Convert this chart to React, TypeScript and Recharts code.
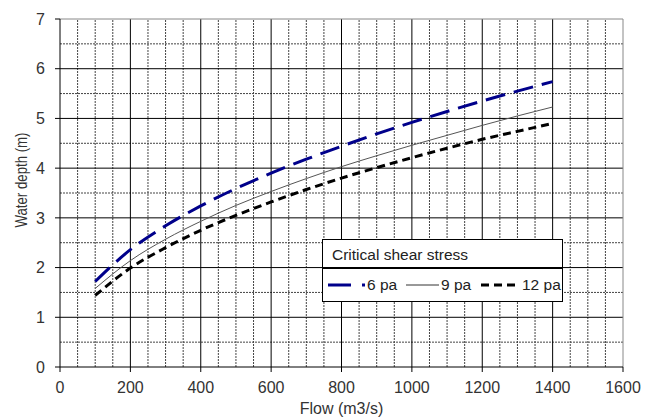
import { LineChart, Line, XAxis, YAxis, ReferenceLine } from "recharts";

const flow = [100, 200, 300, 400, 500, 600, 700, 800, 900, 1000, 1100, 1200, 1300, 1400];
const depth6 = [1.72, 2.36, 2.84, 3.24, 3.59, 3.9, 4.18, 4.44, 4.69, 4.92, 5.14, 5.35, 5.55, 5.74];
const depth9 = [1.58, 2.14, 2.57, 2.93, 3.25, 3.53, 3.79, 4.03, 4.25, 4.46, 4.66, 4.86, 5.05, 5.23];
const depth12 = [1.44, 1.99, 2.4, 2.75, 3.05, 3.32, 3.57, 3.8, 4.01, 4.21, 4.4, 4.58, 4.74, 4.9];

const xTicks = [0, 200, 400, 600, 800, 1000, 1200, 1400, 1600];
const yTicks = [0, 1, 2, 3, 4, 5, 6, 7];
const xMinor = [50, 100, 150, 250, 300, 350, 450, 500, 550, 650, 700, 750, 850, 900, 950, 1050, 1100, 1150, 1250, 1300, 1350, 1450, 1500, 1550];
const yMinor = [0.5, 1.5, 2.5, 3.5, 4.5, 5.5, 6.5];

const data = flow.map((f, i) => ({ flow: f, d6: depth6[i], d9: depth9[i], d12: depth12[i] }));

const font = "Liberation Sans, Arial, sans-serif";

// y axis title, a bit narrower than the tick font
function YLabel() {
  return (
    <text
      x={27}
      y={180}
      transform="rotate(-90 27 180)"
      textAnchor="middle"
      fontSize={16}
      textLength={95}
      lengthAdjust="spacingAndGlyphs"
      fill="#333"
      fontFamily={font}
    >
      Water depth (m)
    </text>
  );
}

function LegendBox() {
  return (
    <div
      style={{
        position: "absolute",
        left: 322,
        top: 239,
        width: 241,
        height: 63,
        border: "1px solid #000",
        background: "#fff",
        fontFamily: font,
        fontSize: 15.5,
        color: "#222",
        boxSizing: "border-box",
      }}
    >
      <div style={{ height: 27, borderBottom: "2px solid #000", paddingLeft: 9, lineHeight: "30px" }}>
        Critical shear stress
      </div>
      <svg width={241} height={31} style={{ display: "block", overflow: "visible" }}>
        <line x1={5} y1={16} x2={28} y2={16} stroke="#00008b" strokeWidth={3} />
        <line x1={39} y1={16} x2={42} y2={16} stroke="#00008b" strokeWidth={3} />
        <text x={44} y={21} fontSize={15.5} fill="#222" fontFamily={font}>6 pa</text>
        <line x1={83} y1={16} x2={116} y2={16} stroke="#333" strokeWidth={1} />
        <text x={118} y={21} fontSize={15.5} fill="#222" fontFamily={font}>9 pa</text>
        <line x1={158} y1={16} x2={192} y2={16} stroke="#000" strokeWidth={3} strokeDasharray="8 5" />
        <text x={199} y={21} fontSize={15.5} fill="#222" fontFamily={font}>12 pa</text>
      </svg>
    </div>
  );
}

export default function App() {
  return (
    <div style={{ position: "absolute", left: 0, top: 0, width: 660, height: 418 }}>
      <LineChart width={660} height={418} data={data} margin={{ top: 19, right: 37, left: 20, bottom: 21 }}>
        {xMinor.map((v) => (
          <ReferenceLine key={"xm" + v} x={v} stroke="#444" strokeDasharray="2 1" />
        ))}
        {yMinor.map((v) => (
          <ReferenceLine key={"ym" + v} y={v} stroke="#444" strokeDasharray="2 1" />
        ))}
        {xTicks.slice(1, -1).map((v) => (
          <ReferenceLine key={"xM" + v} x={v} stroke="#000" />
        ))}
        {yTicks.slice(1, -1).map((v) => (
          <ReferenceLine key={"yM" + v} y={v} stroke="#000" />
        ))}
        <ReferenceLine x={1600} stroke="#888" />
        <ReferenceLine y={7} stroke="#888" />
        <XAxis
          dataKey="flow"
          type="number"
          domain={[0, 1600]}
          ticks={xTicks}
          interval={0}
          height={30}
          stroke="#000"
          tickSize={5}
          tickMargin={10}
          tick={{ fill: "#333", fontSize: 16, fontFamily: font }}
          label={{ value: "Flow (m3/s)", position: "insideBottom", offset: -17, fill: "#333", fontSize: 16, fontFamily: font }}
        />
        <YAxis
          type="number"
          domain={[0, 7]}
          ticks={yTicks}
          interval={0}
          width={40}
          stroke="#000"
          tickSize={5}
          tickMargin={10}
          tick={{ fill: "#333", fontSize: 16, fontFamily: font }}
          label={<YLabel />}
        />
        <Line dataKey="d6" type="monotone" stroke="#00008b" strokeWidth={3} strokeDasharray="20 9" dot={false} isAnimationActive={false} />
        <Line dataKey="d9" type="monotone" stroke="#555" strokeWidth={1} dot={false} isAnimationActive={false} />
        <Line dataKey="d12" type="monotone" stroke="#000" strokeWidth={3} strokeDasharray="8 5" dot={false} isAnimationActive={false} />
      </LineChart>
      <LegendBox />
    </div>
  );
}
